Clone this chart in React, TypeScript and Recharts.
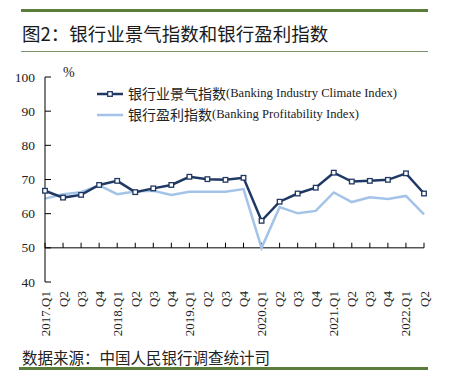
import { LineChart, Line, XAxis, YAxis, ReferenceLine } from "recharts";

const periods = [
  "2017.Q1", "2017.Q2", "2017.Q3", "2017.Q4",
  "2018.Q1", "2018.Q2", "2018.Q3", "2018.Q4",
  "2019.Q1", "2019.Q2", "2019.Q3", "2019.Q4",
  "2020.Q1", "2020.Q2", "2020.Q3", "2020.Q4",
  "2021.Q1", "2021.Q2", "2021.Q3", "2021.Q4",
  "2022.Q1", "2022.Q2",
];
const tickLabels = [
  "2017.Q1", "Q2", "Q3", "Q4",
  "2018.Q1", "Q2", "Q3", "Q4",
  "2019.Q1", "Q2", "Q3", "Q4",
  "2020.Q1", "Q2", "Q3", "Q4",
  "2021.Q1", "Q2", "Q3", "Q4",
  "2022.Q1", "Q2",
];
const climateIndex = [
  66.7, 64.7, 65.5, 68.4, 69.6, 66.3, 67.4, 68.4, 70.8, 70.1, 69.9, 70.5,
  57.9, 63.5, 65.9, 67.6, 72.0, 69.4, 69.6, 69.9, 71.8, 65.9,
];
const profitIndex = [
  64.4, 65.7, 66.3, 68.3, 65.7, 66.5, 66.7, 65.5, 66.4, 66.4, 66.4, 67.2,
  50.0, 61.9, 60.1, 60.8, 66.2, 63.4, 64.8, 64.3, 65.2, 59.8,
];
const yTicks = [40, 50, 60, 70, 80, 90, 100];

const NAVY = "#1f3864";
const LIGHT = "#a3c4e8";
const GREEN = "#5b7d3b";
const SERIF = "'Liberation Serif', 'Noto Sans CJK SC', serif";
const CJK = "'Noto Sans CJK SC', sans-serif";

const data = periods.map((p, i) => ({ period: p, climate: climateIndex[i], profit: profitIndex[i] }));

function XTick({ x, y, payload }: any) {
  const label = tickLabels[periods.indexOf(payload.value)];
  return (
    <text x={x} y={y} transform={`rotate(-90 ${x} ${y})`} textAnchor="end" dominantBaseline="central"
      fontSize={13} fontFamily={SERIF} fill="#222">
      {label}
    </text>
  );
}

function YTick({ x, y, payload }: any) {
  return (
    <g>
      <line x1={x + 10} x2={x + 16} y1={y} y2={y} stroke="#000" strokeWidth={1} />
      <text x={x} y={y} textAnchor="end" dominantBaseline="central" fontSize={13.5} fontFamily={SERIF} fill="#222">
        {payload.value}
      </text>
    </g>
  );
}

function SquareDot({ cx, cy, index }: any) {
  return <rect key={index} x={cx - 2.3} y={cy - 2.3} width={4.6} height={4.6} fill="#fff" stroke={NAVY} strokeWidth={1.3} />;
}

const legendItems = [
  { cn: "银行业景气指数", en: "(Banking Industry Climate Index)", color: NAVY, marker: true },
  { cn: "银行盈利指数", en: "(Banking Profitability Index)", color: LIGHT, marker: false },
];

function LegendBox() {
  return (
    <div style={{ color: "#222", lineHeight: "21px" }}>
      {legendItems.map((it) => (
        <div key={it.cn} style={{ display: "flex", alignItems: "center", whiteSpace: "nowrap" }}>
          <svg width={31} height={10}>
            <line x1={0} x2={26} y1={5} y2={5} stroke={it.color} strokeWidth={2.5} />
            {it.marker && <rect x={10.7} y={2.7} width={4.6} height={4.6} fill="#fff" stroke={NAVY} strokeWidth={1.3} />}
          </svg>
          <span style={{ fontFamily: CJK, fontSize: 14 }}>{it.cn}</span>
          <span style={{ fontFamily: SERIF, fontSize: 12.6 }}>{it.en}</span>
        </div>
      ))}
    </div>
  );
}

export default function App() {
  return (
    <div style={{ position: "absolute", left: 0, top: 0, width: 449, height: 372, background: "#fff", overflow: "hidden" }}>
      <div style={{ position: "absolute", left: 21, top: 9, width: 407, height: 3, background: GREEN }} />
      <div style={{ position: "absolute", left: 22, top: 20, fontFamily: CJK, fontSize: 18.5, color: "#1a1a1a", lineHeight: "26px", whiteSpace: "nowrap" }}>
        图2：银行业景气指数和银行盈利指数
      </div>
      <div style={{ position: "absolute", left: 21, top: 51, width: 407, height: 1, background: "#7a9468" }} />

      <div style={{ position: "absolute", left: 0, top: 0 }}>
        <LineChart width={449} height={372} data={data} margin={{ top: 77, right: 25, left: 0, bottom: 30 }}>
          <XAxis dataKey="period" interval={0} axisLine={false} tickLine={false} tickSize={0} tickMargin={9}
            height={60} tick={<XTick />} />
          <YAxis domain={[40, 100]} ticks={yTicks} width={45} tickLine={false} tickSize={0} tickMargin={10}
            axisLine={{ stroke: "#000", strokeWidth: 1 }} tick={<YTick />} />
          <ReferenceLine y={50} stroke="#000" strokeWidth={1} />
          {periods.map((p) => (
            <ReferenceLine key={p} segment={[{ x: p, y: 50 }, { x: p, y: 51.5 }]} stroke="#000" strokeWidth={1} />
          ))}
          <Line type="linear" dataKey="profit" stroke={LIGHT} strokeWidth={2.5} dot={false} isAnimationActive={false} />
          <Line type="linear" dataKey="climate" stroke={NAVY} strokeWidth={2.5} dot={<SquareDot />} isAnimationActive={false} />
        </LineChart>
      </div>

      <div style={{ position: "absolute", left: 97, top: 83 }}>
        <LegendBox />
      </div>
      <div style={{ position: "absolute", left: 63, top: 65, fontFamily: SERIF, fontSize: 14, color: "#222" }}>%</div>
      <div style={{ position: "absolute", left: 22, top: 346, fontFamily: CJK, fontSize: 15.5, color: "#222", lineHeight: "22px", whiteSpace: "nowrap" }}>
        数据来源：中国人民银行调查统计司
      </div>
      <div style={{ position: "absolute", left: 19, top: 367, width: 409, height: 3, background: GREEN }} />
    </div>
  );
}
